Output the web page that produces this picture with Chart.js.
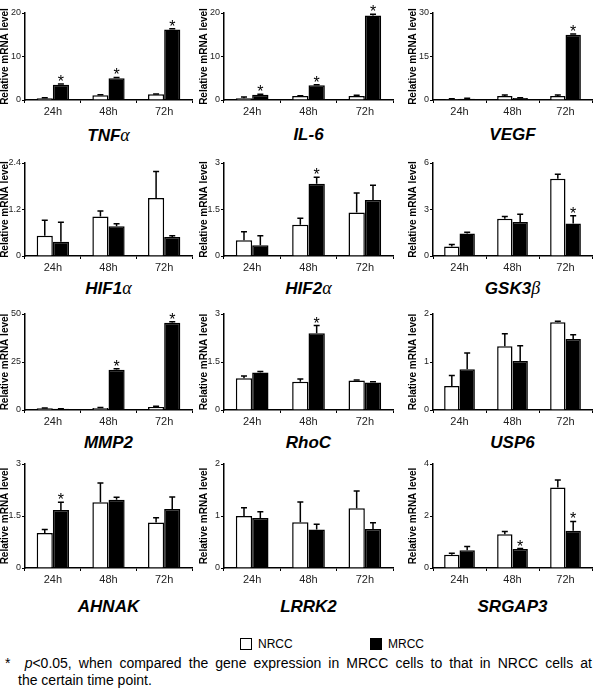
<!DOCTYPE html>
<html>
<head>
<meta charset="utf-8">
<script src="https://cdn.jsdelivr.net/npm/chart.js@4/dist/chart.umd.min.js"></script>
<style>
  body { margin: 0; background: #fff; }
  #wrap { position: relative; width: 600px; height: 693px; overflow: hidden; font-family: "Liberation Sans", Arial, sans-serif; }
  canvas { position: absolute; }
  .gene { position: absolute; width: 160px; text-align: center; font-size: 17px; line-height: 20px; font-weight: bold; font-style: italic; color: #000; }
  .gene .gr { font-family: "Liberation Serif", "DejaVu Serif", serif; font-weight: normal; font-style: italic; font-size: 18px; }
  .box { position: absolute; width: 10px; height: 10px; border: 1px solid #000; }
  .lab { position: absolute; font-size: 12px; line-height: 14px; }
  .note { position: absolute; font-size: 14px; line-height: 17px; white-space: nowrap; }
</style>
</head>
<body>
<div id="wrap"></div>
<script>
// 时间点
const timePoints = ['24h', '48h', '72h'];

// 基因名称（希腊字母单独显示）
const geneNames  = ['TNF', 'IL-6', 'VEGF', 'HIF1', 'HIF2', 'GSK3', 'MMP2', 'RhoC', 'USP6', 'AHNAK', 'LRRK2', 'SRGAP3'];
const geneGreek  = ['α', '', '', 'α', 'α', 'β', '', '', '', '', '', ''];

// 纵轴最大值
const yMax = [20, 20, 30, 2.4, 3, 6, 50, 3, 2, 3, 2, 4];

// NRCC 均值与误差
const nrccMean = [
    [0.4, 1.1, 1.3], [0.4, 0.9, 0.9], [0.3, 1.4, 1.4],
    [0.52, 1.02, 1.5], [0.51, 1.01, 1.4], [0.61, 2.41, 4.98],
    [0.9, 1.0, 1.6], [0.99, 0.88, 0.92], [0.5, 1.33, 1.83],
    [1.01, 1.9, 1.31], [1.0, 0.88, 1.15], [0.51, 1.3, 3.1]
];
const nrccErr = [
    [0.1, 0.1, 0.1], [0.3, 0.1, 0.2], [0.1, 0.3, 0.3],
    [0.4, 0.14, 0.68], [0.27, 0.21, 0.63], [0.14, 0.14, 0.29],
    [0.1, 0.35, 0.4], [0.07, 0.09, 0.02], [0.22, 0.26, 0.02],
    [0.1, 0.55, 0.14], [0.16, 0.39, 0.33], [0.06, 0.1, 0.28]
];

// MRCC 均值与误差
const mrccMean = [
    [3.5, 5.0, 16.2], [1.2, 3.4, 19.4], [0.4, 0.7, 22.5],
    [0.37, 0.77, 0.49], [0.35, 2.33, 1.81], [1.45, 2.2, 2.1],
    [0.6, 21.0, 45.5], [1.17, 2.4, 0.86], [0.85, 1.02, 1.48],
    [1.67, 1.97, 1.7], [0.96, 0.74, 0.75], [0.68, 0.73, 1.43]
];
const mrccErr = [
    [0.2, 0.2, 0.2], [0.1, 0.1, 0.3], [0.2, 0.1, 0.3],
    [0.5, 0.06, 0.03], [0.3, 0.21, 0.47], [0.08, 0.49, 0.49],
    [0.1, 0.5, 0.5], [0.03, 0.24, 0.02], [0.34, 0.32, 0.09],
    [0.23, 0.07, 0.35], [0.12, 0.1, 0.12], [0.15, 0.02, 0.36]
];

// 显著性标记 (MRCC vs NRCC, p<0.05)
const mrccStar = [
    [1, 1, 1], [1, 1, 1], [0, 0, 1],
    [0, 0, 0], [0, 1, 0], [0, 0, 1],
    [0, 1, 1], [0, 1, 0], [0, 0, 0],
    [1, 0, 0], [0, 0, 0], [0, 1, 1]
];

// 版面位置
const axisLeft  = [25, 224, 433];
const axisRight = [192, 393, 592];
const plotTop    = [13, 163, 314, 464];
const plotBottom = [100, 256, 410, 568];
const padTop     = [13, 10, 10, 10];
const titleY     = [125, 278, 433, 597];
const FONT = '"Liberation Sans", Arial, sans-serif';

const wrap = document.getElementById('wrap');

/**
 * 误差线与星号插件
 */
const errorBarPlugin = {
    id: 'errorBars',
    afterDatasetsDraw(chart) {
        const ctx = chart.ctx;
        const yScale = chart.scales.y;
        chart.data.datasets.forEach((ds, i) => {
            const meta = chart.getDatasetMeta(i);
            meta.data.forEach((bar, j) => {
                const top = yScale.getPixelForValue(ds.data[j] + ds.errors[j]);
                ctx.save();
                ctx.strokeStyle = '#000';
                ctx.lineWidth = 1.5;
                ctx.beginPath();
                ctx.moveTo(bar.x, bar.y);
                ctx.lineTo(bar.x, top);
                ctx.moveTo(bar.x - 3, top);
                ctx.lineTo(bar.x + 3, top);
                ctx.stroke();
                if (ds.stars && ds.stars[j]) {
                    ctx.fillStyle = '#000';
                    ctx.font = '16px ' + FONT;
                    ctx.textAlign = 'center';
                    ctx.textBaseline = 'alphabetic';
                    // 星号底部位于误差线上方 3px
                    const m = ctx.measureText('*');
                    ctx.fillText('*', bar.x, top - 3 - m.actualBoundingBoxDescent);
                }
                ctx.restore();
            });
        });
    }
};

function makePanel(i) {
    const row = Math.floor(i / 3);
    const col = i % 3;
    const left = axisLeft[col] - 25;
    const top = plotTop[row] - padTop[row];
    const width = axisRight[col] - left + 4;
    const height = padTop[row] + (plotBottom[row] - plotTop[row]) + 18;

    const canvas = document.createElement('canvas');
    canvas.width = width;
    canvas.height = height;
    canvas.style.left = left + 'px';
    canvas.style.top = top + 'px';
    wrap.appendChild(canvas);

    new Chart(canvas, {
        type: 'bar',
        data: {
            labels: timePoints,
            datasets: [
                {
                    label: 'NRCC',
                    data: nrccMean[i],
                    errors: nrccErr[i],
                    backgroundColor: '#fff',
                    borderColor: '#000',
                    borderWidth: 1.5
                },
                {
                    label: 'MRCC',
                    data: mrccMean[i],
                    errors: mrccErr[i],
                    stars: mrccStar[i],
                    backgroundColor: '#000',
                    borderColor: '#000',
                    borderWidth: 1.5
                }
            ]
        },
        options: {
            responsive: false,
            animation: false,
            devicePixelRatio: 1,
            layout: { padding: { top: padTop[row], right: 4, left: 0, bottom: 0 } },
            datasets: { bar: { categoryPercentage: 0.58, barPercentage: 1 } },
            plugins: { legend: { display: false }, tooltip: { enabled: false } },
            scales: {
                x: {
                    grid: { drawOnChartArea: false, tickLength: 3, color: '#000', offset: true },
                    border: { color: '#000', width: 1.5 },
                    ticks: { font: { size: 11, family: FONT }, color: '#222', padding: 2 },
                    afterFit: s => { s.height = 18; }
                },
                y: {
                    min: 0,
                    max: yMax[i],
                    grid: { drawOnChartArea: false, tickLength: 3, color: '#000' },
                    border: { color: '#000', width: 1.5 },
                    ticks: { stepSize: yMax[i] / 2, font: { size: 9, family: FONT }, color: '#222', padding: 1 },
                    title: {
                        display: true,
                        text: 'Relative mRNA level',
                        font: { size: 10, weight: 'bold', family: FONT, lineHeight: 1 },
                        color: '#000',
                        padding: 0
                    },
                    afterFit: s => { s.width = 25; }
                }
            }
        },
        plugins: [errorBarPlugin]
    });

    // 基因名称
    const t = document.createElement('div');
    t.className = 'gene';
    t.style.left = ((axisLeft[col] + axisRight[col]) / 2 - 80) + 'px';
    t.style.top = titleY[row] + 'px';
    t.innerHTML = geneNames[i] + (geneGreek[i] ? '<span class="gr">' + geneGreek[i] + '</span>' : '');
    wrap.appendChild(t);
}

for (let i = 0; i < 12; i++) makePanel(i);

// 图例与注释
wrap.insertAdjacentHTML('beforeend',
    '<div class="box" style="left:240px;top:638px;background:#fff"></div>' +
    '<div class="lab" style="left:258px;top:637px">NRCC</div>' +
    '<div class="box" style="left:370px;top:638px;background:#000"></div>' +
    '<div class="lab" style="left:388px;top:637px">MRCC</div>' +
    '<div class="note" style="top:655px;left:5px;word-spacing:3.2px">*&nbsp; <i>p</i>&lt;0.05, when compared the gene expression in MRCC cells to that in NRCC cells at</div>' +
    '<div class="note" style="top:672px;left:18px">the certain time point.</div>'
);
</script>
</body>
</html>
